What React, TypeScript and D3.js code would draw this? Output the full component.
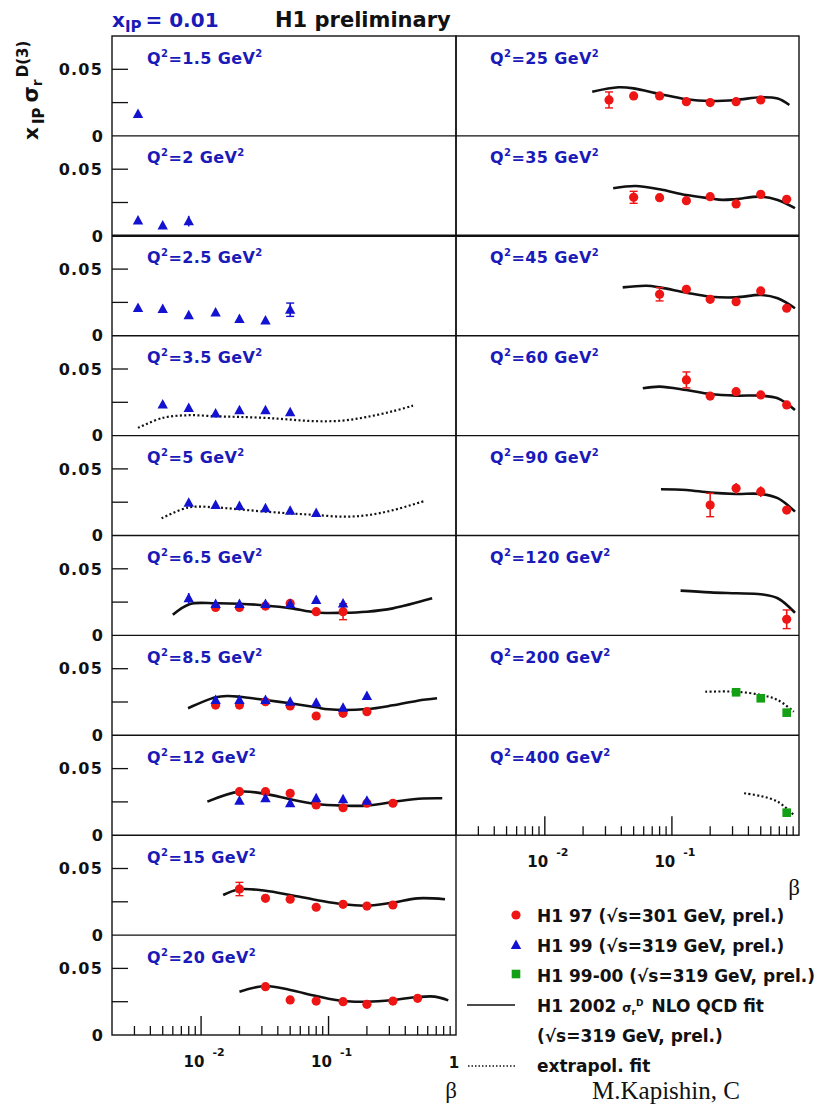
import React from "react";
import * as d3 from "d3";

// ---------- data (β, xIP·σr^D(3), error) ----------
const BETA_DOMAIN: [number, number] = [0.002, 1];
const Y_DOMAIN: [number, number] = [0, 0.075];
const Y_TICKS = [0.025, 0.05];
const Y_TICK_LABELS = ["", "0.05"];
const X_MINOR = [0.003, 0.004, 0.005, 0.006, 0.007, 0.008, 0.009, 0.02, 0.03, 0.04, 0.05, 0.06, 0.07, 0.08, 0.09, 0.2, 0.3, 0.4, 0.5, 0.6, 0.7, 0.8, 0.9];
const X_MAJOR = [0.01, 0.1];
const X_MAJOR_EXP = ["-2", "-1"];

// H1 99 (blue triangles)
const h199_Q1_5 = [[0.0032, 0.0165, 0.0025]];
const h199_Q2 = [[0.0032, 0.0115], [0.005, 0.0078], [0.008, 0.011, 0.004]];
const h199_Q2_5 = [[0.0032, 0.0208], [0.005, 0.02], [0.008, 0.0153], [0.013, 0.0175], [0.02, 0.0125, 0.0028], [0.032, 0.0115], [0.05, 0.0195, 0.005]];
const h199_Q3_5 = [[0.005, 0.0233], [0.008, 0.0208], [0.013, 0.0165], [0.02, 0.019], [0.032, 0.019], [0.05, 0.0175]];
const h199_Q5 = [[0.008, 0.0245, 0.002], [0.013, 0.0229], [0.02, 0.0221], [0.032, 0.0204], [0.05, 0.0186], [0.08, 0.0168]];
const h199_Q6_5 = [[0.008, 0.0278, 0.004], [0.013, 0.0236], [0.02, 0.0236], [0.032, 0.0236], [0.05, 0.0236], [0.08, 0.0266], [0.13, 0.024]];
const h199_Q8_5 = [[0.013, 0.0265], [0.02, 0.0265], [0.032, 0.0265], [0.05, 0.0252], [0.08, 0.0245], [0.13, 0.0207], [0.2, 0.0295]];
const h199_Q12 = [[0.02, 0.0259], [0.032, 0.0277], [0.05, 0.024], [0.08, 0.0277], [0.13, 0.027], [0.2, 0.0259]];

// H1 97 (red circles)
const h197_Q6_5 = [[0.013, 0.021], [0.02, 0.021], [0.032, 0.022], [0.05, 0.024, 0.0015], [0.08, 0.0178], [0.13, 0.0178, 0.006]];
const h197_Q8_5 = [[0.013, 0.0227], [0.02, 0.0227], [0.032, 0.0252], [0.05, 0.022], [0.08, 0.0145], [0.13, 0.0165], [0.2, 0.0177]];
const h197_Q12 = [[0.02, 0.0327, 0.003], [0.032, 0.0327, 0.003], [0.05, 0.0314], [0.08, 0.0227], [0.13, 0.0206], [0.2, 0.024], [0.32, 0.024, 0.002]];
const h197_Q15 = [[0.02, 0.0346, 0.005], [0.032, 0.0276], [0.05, 0.0269], [0.08, 0.0209], [0.13, 0.0231], [0.2, 0.0218], [0.32, 0.0226]];
const h197_Q20 = [[0.032, 0.0363], [0.05, 0.0263], [0.08, 0.0255], [0.13, 0.025], [0.2, 0.023], [0.32, 0.0255], [0.5, 0.0275]];
const h197_Q25 = [[0.032, 0.027, 0.006], [0.05, 0.03], [0.08, 0.03], [0.13, 0.0257], [0.2, 0.025], [0.32, 0.0257], [0.5, 0.027]];
const h197_Q35 = [[0.05, 0.0289, 0.0045], [0.08, 0.0286], [0.13, 0.0264], [0.2, 0.0294], [0.32, 0.0239], [0.5, 0.0311], [0.8, 0.0274]];
const h197_Q45 = [[0.08, 0.0311, 0.005], [0.13, 0.0348], [0.2, 0.0273], [0.32, 0.0255], [0.5, 0.0336], [0.8, 0.0206]];
const h197_Q60 = [[0.13, 0.0418, 0.006], [0.2, 0.0297], [0.32, 0.033, 0.002], [0.5, 0.0305, 0.002], [0.8, 0.023]];
const h197_Q90 = [[0.2, 0.0229, 0.0088], [0.32, 0.0354, 0.004], [0.5, 0.0329, 0.004], [0.8, 0.0191]];
const h197_Q120 = [[0.8, 0.0121, 0.007]];

// H1 99-00 (green squares)
const h19900_Q200 = [[0.32, 0.0323], [0.5, 0.0278], [0.8, 0.017]];
const h19900_Q400 = [[0.8, 0.0169]];

// H1 2002 NLO QCD fit (solid) and extrapolated fit (dotted)
const fit_Q3_5 = [[0.0032, 0.0058], [0.005, 0.0133], [0.008, 0.0153], [0.013, 0.0145], [0.02, 0.014], [0.032, 0.0133], [0.05, 0.012], [0.08, 0.0108], [0.13, 0.0113], [0.2, 0.014], [0.32, 0.0183], [0.46, 0.0225]];
const fit_Q5 = [[0.0049, 0.0129], [0.008, 0.0211], [0.013, 0.0211], [0.02, 0.0196], [0.032, 0.0179], [0.05, 0.0166], [0.08, 0.0154], [0.13, 0.0141], [0.2, 0.0152], [0.32, 0.019], [0.57, 0.026]];
const fit_Q6_5 = [[0.006, 0.0155], [0.0082, 0.0236], [0.013, 0.0241], [0.02, 0.0238], [0.032, 0.0225], [0.05, 0.0205], [0.08, 0.0172], [0.13, 0.017], [0.2, 0.0178], [0.32, 0.0203], [0.65, 0.0278]];
const fit_Q8_5 = [[0.0079, 0.0203], [0.013, 0.0285], [0.016, 0.0295], [0.02, 0.029], [0.032, 0.0265], [0.05, 0.024], [0.08, 0.021], [0.1, 0.0195], [0.2, 0.0197], [0.32, 0.0225], [0.5, 0.026], [0.71, 0.0278]];
const fit_Q12 = [[0.0112, 0.0252], [0.02, 0.0327], [0.032, 0.031], [0.05, 0.027], [0.08, 0.0234], [0.13, 0.0222], [0.2, 0.0222], [0.36, 0.0257], [0.55, 0.0275], [0.78, 0.0277]];
const fit_Q15 = [[0.0149, 0.0301], [0.02, 0.0344], [0.032, 0.0333], [0.05, 0.0301], [0.08, 0.0264], [0.13, 0.0231], [0.2, 0.0221], [0.32, 0.0244], [0.5, 0.0276], [0.82, 0.0269]];
const fit_Q20 = [[0.02, 0.0325], [0.032, 0.0368], [0.05, 0.0338], [0.08, 0.0293], [0.13, 0.0255], [0.2, 0.025], [0.32, 0.0263], [0.5, 0.0285], [0.68, 0.0288], [0.87, 0.026]];
const fit_Q25 = [[0.0236, 0.0332], [0.038, 0.0365], [0.05, 0.0357], [0.08, 0.0315], [0.13, 0.0275], [0.2, 0.0262], [0.32, 0.027], [0.5, 0.029], [0.68, 0.028], [0.84, 0.0232]];
const fit_Q35 = [[0.0345, 0.0357], [0.052, 0.0374], [0.08, 0.0349], [0.13, 0.0306], [0.2, 0.0281], [0.25, 0.027], [0.32, 0.0276], [0.5, 0.0294], [0.68, 0.0269], [0.93, 0.0207]];
const fit_Q45 = [[0.041, 0.0363], [0.063, 0.0375], [0.08, 0.0363], [0.13, 0.0323], [0.2, 0.0293], [0.32, 0.0288], [0.5, 0.0306], [0.68, 0.0281], [0.93, 0.0206]];
const fit_Q60 = [[0.059, 0.0355], [0.08, 0.0368], [0.13, 0.0342], [0.2, 0.0312], [0.32, 0.03], [0.5, 0.03], [0.68, 0.028], [0.93, 0.0192]];
const fit_Q90 = [[0.082, 0.0347], [0.13, 0.0342], [0.2, 0.0322], [0.32, 0.0312], [0.5, 0.0312], [0.68, 0.028], [0.93, 0.0179]];
const fit_Q120 = [[0.117, 0.0336], [0.2, 0.0323], [0.32, 0.0316], [0.5, 0.0309], [0.68, 0.0279], [0.93, 0.017]];
const fit_Q200 = [[0.183, 0.0327], [0.32, 0.0327], [0.5, 0.0303], [0.68, 0.0265], [0.91, 0.0177]];
const fit_Q400 = [[0.37, 0.0315], [0.5, 0.0294], [0.68, 0.0252], [0.91, 0.0152]];

const LEFT_Q2 = ["1.5", "2", "2.5", "3.5", "5", "6.5", "8.5", "12", "15", "20"];
const RIGHT_Q2 = ["25", "35", "45", "60", "90", "120", "200", "400"];

const LEGEND_LABELS = ["H1 97 (\u221As=301 GeV, prel.)", "H1 99 (\u221As=319 GeV, prel.)", "H1 99-00 (\u221As=319 GeV, prel.)"];

// table built from the arrays above
const E: number[][] = [];
const leftPanels = [
  { h197: E, h199: h199_Q1_5, h19900: E, fit: E, extrap: E },
  { h197: E, h199: h199_Q2, h19900: E, fit: E, extrap: E },
  { h197: E, h199: h199_Q2_5, h19900: E, fit: E, extrap: E },
  { h197: E, h199: h199_Q3_5, h19900: E, fit: E, extrap: fit_Q3_5 },
  { h197: E, h199: h199_Q5, h19900: E, fit: E, extrap: fit_Q5 },
  { h197: h197_Q6_5, h199: h199_Q6_5, h19900: E, fit: fit_Q6_5, extrap: E },
  { h197: h197_Q8_5, h199: h199_Q8_5, h19900: E, fit: fit_Q8_5, extrap: E },
  { h197: h197_Q12, h199: h199_Q12, h19900: E, fit: fit_Q12, extrap: E },
  { h197: h197_Q15, h199: E, h19900: E, fit: fit_Q15, extrap: E },
  { h197: h197_Q20, h199: E, h19900: E, fit: fit_Q20, extrap: E },
].map((p, i) => ({ ...p, q2: LEFT_Q2[i] }));
const rightPanels = [
  { h197: h197_Q25, h199: E, h19900: E, fit: fit_Q25, extrap: E },
  { h197: h197_Q35, h199: E, h19900: E, fit: fit_Q35, extrap: E },
  { h197: h197_Q45, h199: E, h19900: E, fit: fit_Q45, extrap: E },
  { h197: h197_Q60, h199: E, h19900: E, fit: fit_Q60, extrap: E },
  { h197: h197_Q90, h199: E, h19900: E, fit: fit_Q90, extrap: E },
  { h197: h197_Q120, h199: E, h19900: E, fit: fit_Q120, extrap: E },
  { h197: E, h199: E, h19900: h19900_Q200, fit: E, extrap: fit_Q200 },
  { h197: E, h199: E, h19900: h19900_Q400, fit: E, extrap: fit_Q400 },
].map((p, i) => ({ ...p, q2: RIGHT_Q2[i] }));

// ---------- layout / style ----------
const W = 823, H = 1105;
const TOP = 36, PH = 99.9;
const COLS = [{ x0: 112, x1: 456, n: 10 }, { x0: 456, x1: 799, n: 8 }];
const FONT = "'DejaVu Sans', 'Liberation Sans', Arial, sans-serif";
const SERIF = "'Liberation Serif', 'DejaVu Serif', 'Times New Roman', serif";
const TXT_BLUE = "#1a1ab8";
const RED = "#ee1515";
const BLUE = "#1212d0";
const GREEN = "#14a014";
const INK = "#111";
const DEF_ERR = 0.0012;

const triPath = "M0,-5.5L5.2,4L-5.2,4Z";

function Markers({ pts, xs, ys, kind }: any) {
  const color = kind === "c" ? RED : kind === "t" ? BLUE : GREEN;
  return (
    <g>
      {pts.map((d: number[], i: number) => {
        const x = xs(d[0]);
        const y = ys(d[1]);
        const e = d[2] ?? DEF_ERR;
        const y1 = ys(d[1] + e), y2 = ys(d[1] - e);
        const showCaps = (y2 - y1) / 2 > 5.5;
        return (
          <g key={i}>
            <line x1={x} x2={x} y1={y1} y2={y2} stroke={color} strokeWidth={1.6} />
            {showCaps && <line x1={x - 4} x2={x + 4} y1={y1} y2={y1} stroke={color} strokeWidth={1.4} />}
            {showCaps && <line x1={x - 4} x2={x + 4} y1={y2} y2={y2} stroke={color} strokeWidth={1.4} />}
            {kind === "c" && <circle cx={x} cy={y} r={4.6} fill={color} />}
            {kind === "t" && <path d={triPath} transform={`translate(${x},${y})`} fill={color} />}
            {kind === "s" && <rect x={x - 4.3} y={y - 4.3} width={8.6} height={8.6} fill={color} />}
          </g>
        );
      })}
    </g>
  );
}

function Q2Label({ x, y, q }: any) {
  return (
    <text x={x} y={y} fill={TXT_BLUE} fontFamily={FONT} fontWeight="bold" fontSize={16} letterSpacing={0.4}>
      Q<tspan fontSize={10} dy={-7}>2</tspan>
      <tspan dy={7}>{"=" + q + " GeV"}</tspan>
      <tspan fontSize={10} dy={-7}>2</tspan>
    </text>
  );
}

function Column({ panels, col, ci }: any) {
  const xs = d3.scaleLog().domain(BETA_DOMAIN).range([col.x0, col.x1]);
  const bottom = TOP + col.n * PH;
  const lineGen = (ys: any) =>
    d3.line<number[]>().x((d) => xs(d[0])).y((d) => ys(d[1])).curve(d3.curveCatmullRom.alpha(0.5));
  return (
    <g>
      {panels.map((p: any, r: number) => {
        const ys = d3.scaleLinear().domain(Y_DOMAIN).range([TOP + (r + 1) * PH, TOP + r * PH]);
        const lg = lineGen(ys);
        return (
          <g key={r}>
            {ci === 0 &&
              Y_TICKS.map((t, k) => (
                <g key={k}>
                  <line x1={col.x0} x2={col.x0 + 16} y1={ys(t)} y2={ys(t)} stroke={INK} strokeWidth={1.3} />
                  {Y_TICK_LABELS[k] && (
                    <text x={103} y={ys(t)} dy="0.36em" textAnchor="end" fontFamily={FONT} fontWeight="bold" fontSize={16} letterSpacing={1.2} fill={INK}>
                      {Y_TICK_LABELS[k]}
                    </text>
                  )}
                </g>
              ))}
            {ci === 0 && (
              <text x={103} y={ys(0)} dy="0.36em" textAnchor="end" fontFamily={FONT} fontWeight="bold" fontSize={16} fill={INK}>
                0
              </text>
            )}
            <Q2Label x={col.x0 + (ci === 0 ? 35 : 34)} y={TOP + r * PH + 27.5} q={p.q2} />
            {p.fit.length > 0 && <path d={lg(p.fit) || ""} fill="none" stroke={INK} strokeWidth={2.6} />}
            {p.extrap.length > 0 && (
              <path d={lg(p.extrap) || ""} fill="none" stroke={INK} strokeWidth={2.2} strokeDasharray="2 2.4" />
            )}
            <Markers pts={p.h197} xs={xs} ys={ys} kind="c" />
            <Markers pts={p.h199} xs={xs} ys={ys} kind="t" />
            <Markers pts={p.h19900} xs={xs} ys={ys} kind="s" />
          </g>
        );
      })}
      {/* frame */}
      <rect x={col.x0} y={TOP} width={col.x1 - col.x0} height={bottom - TOP} fill="none" stroke={INK} strokeWidth={1.4} />
      {d3.range(1, col.n).map((k) => (
        <line key={k} x1={col.x0} x2={col.x1} y1={TOP + k * PH} y2={TOP + k * PH} stroke={INK} strokeWidth={k === 2 ? 2.6 : 1.4} />
      ))}
      {/* x ticks on bottom panel */}
      {X_MINOR.map((b, k) => (
        <line key={"m" + k} x1={xs(b)} x2={xs(b)} y1={bottom} y2={bottom - 9} stroke={INK} strokeWidth={1.3} />
      ))}
      {X_MAJOR.map((b, k) => (
        <g key={"M" + k}>
          <line x1={xs(b)} x2={xs(b)} y1={bottom} y2={bottom - 19} stroke={INK} strokeWidth={1.4} />
          <text x={xs(b) - 17.5} y={bottom + 32} fontFamily={FONT} fontWeight="bold" fontSize={15} fill={INK}>
            10
            <tspan fontSize={11} dx={8} dy={-11}>{X_MAJOR_EXP[k]}</tspan>
          </text>
        </g>
      ))}
      {ci === 0 && (
        <text x={xs(1) - 2} y={bottom + 33} textAnchor="middle" fontFamily={FONT} fontWeight="bold" fontSize={15} fill={INK}>
          1
        </text>
      )}
      <text x={col.x1 + 1} y={ci === 0 ? bottom + 63 : bottom + 60} textAnchor="end" fontFamily={SERIF} fontSize={23} fill={INK}>
        β
      </text>
    </g>
  );
}

function Legend() {
  const x0 = 537, yb = 921.7, dy = 30;
  return (
    <g fontFamily={FONT} fontWeight="bold" fontSize={17} fill={INK}>
      <circle cx={516} cy={915} r={4.6} fill={RED} />
      <path d={triPath} transform="translate(516,945)" fill={BLUE} />
      <rect x={511.7} y={969.7} width={8.6} height={8.6} fill={GREEN} />
      <line x1={467} x2={515} y1={1005} y2={1005} stroke={INK} strokeWidth={1.5} />
      <line x1={468} x2={515} y1={1066} y2={1066} stroke={INK} strokeWidth={1.5} strokeDasharray="1.5 2" />
      {LEGEND_LABELS.map((t, i) => (
        <text key={i} x={x0} y={yb + i * dy}>{t}</text>
      ))}
      <text x={x0} y={yb + 3 * dy}>
        {"H1 2002 "}
        <tspan fontSize={12}>σ</tspan>
        <tspan fontSize={9} dy={3}>r</tspan>
        <tspan fontSize={9} dy={-9}>D</tspan>
        <tspan dy={6} dx={2}>{" NLO QCD fit"}</tspan>
      </text>
      <text x={x0} y={yb + 4 * dy}>{"(\u221As=319 GeV, prel.)"}</text>
      <text x={x0} y={yb + 5 * dy}>{"extrapol. fit"}</text>
    </g>
  );
}

export default function App() {
  return (
    <svg width={W} height={H} style={{ position: "fixed", left: 0, top: 0, background: "#fff" }}>
      <rect width={W} height={H} fill="#fff" />
      {/* header */}
      <text x={112} y={26.5} fill={TXT_BLUE} fontFamily={FONT} fontWeight="bold" fontSize={20}>
        x<tspan fontSize={15} dy={5}>IP</tspan>
        <tspan fontSize={20} dy={-5} dx={4}>= 0.01</tspan>
      </text>
      <text x={275} y={26.5} fill={INK} fontFamily={FONT} fontWeight="bold" fontSize={21}>
        H1 preliminary
      </text>
      {/* y-axis title */}
      <text transform="translate(38,140) rotate(-90)" fill={INK} fontFamily={FONT} fontWeight="bold" fontSize={20}>
        x<tspan fontSize={15} dy={6} dx={3}>IP</tspan>
        <tspan fontSize={21} dy={-6} dx={5}>σ</tspan>
        <tspan fontSize={14} dy={4}>r</tspan>
        <tspan fontSize={15} dy={-14} dx={2}>D(3)</tspan>
      </text>
      <Column panels={leftPanels} col={COLS[0]} ci={0} />
      <Column panels={rightPanels} col={COLS[1]} ci={1} />
      <Legend />
      <text x={592} y={1098.5} fontFamily={SERIF} fontSize={25} fill={INK}>M.Kapishin, C</text>
    </svg>
  );
}
